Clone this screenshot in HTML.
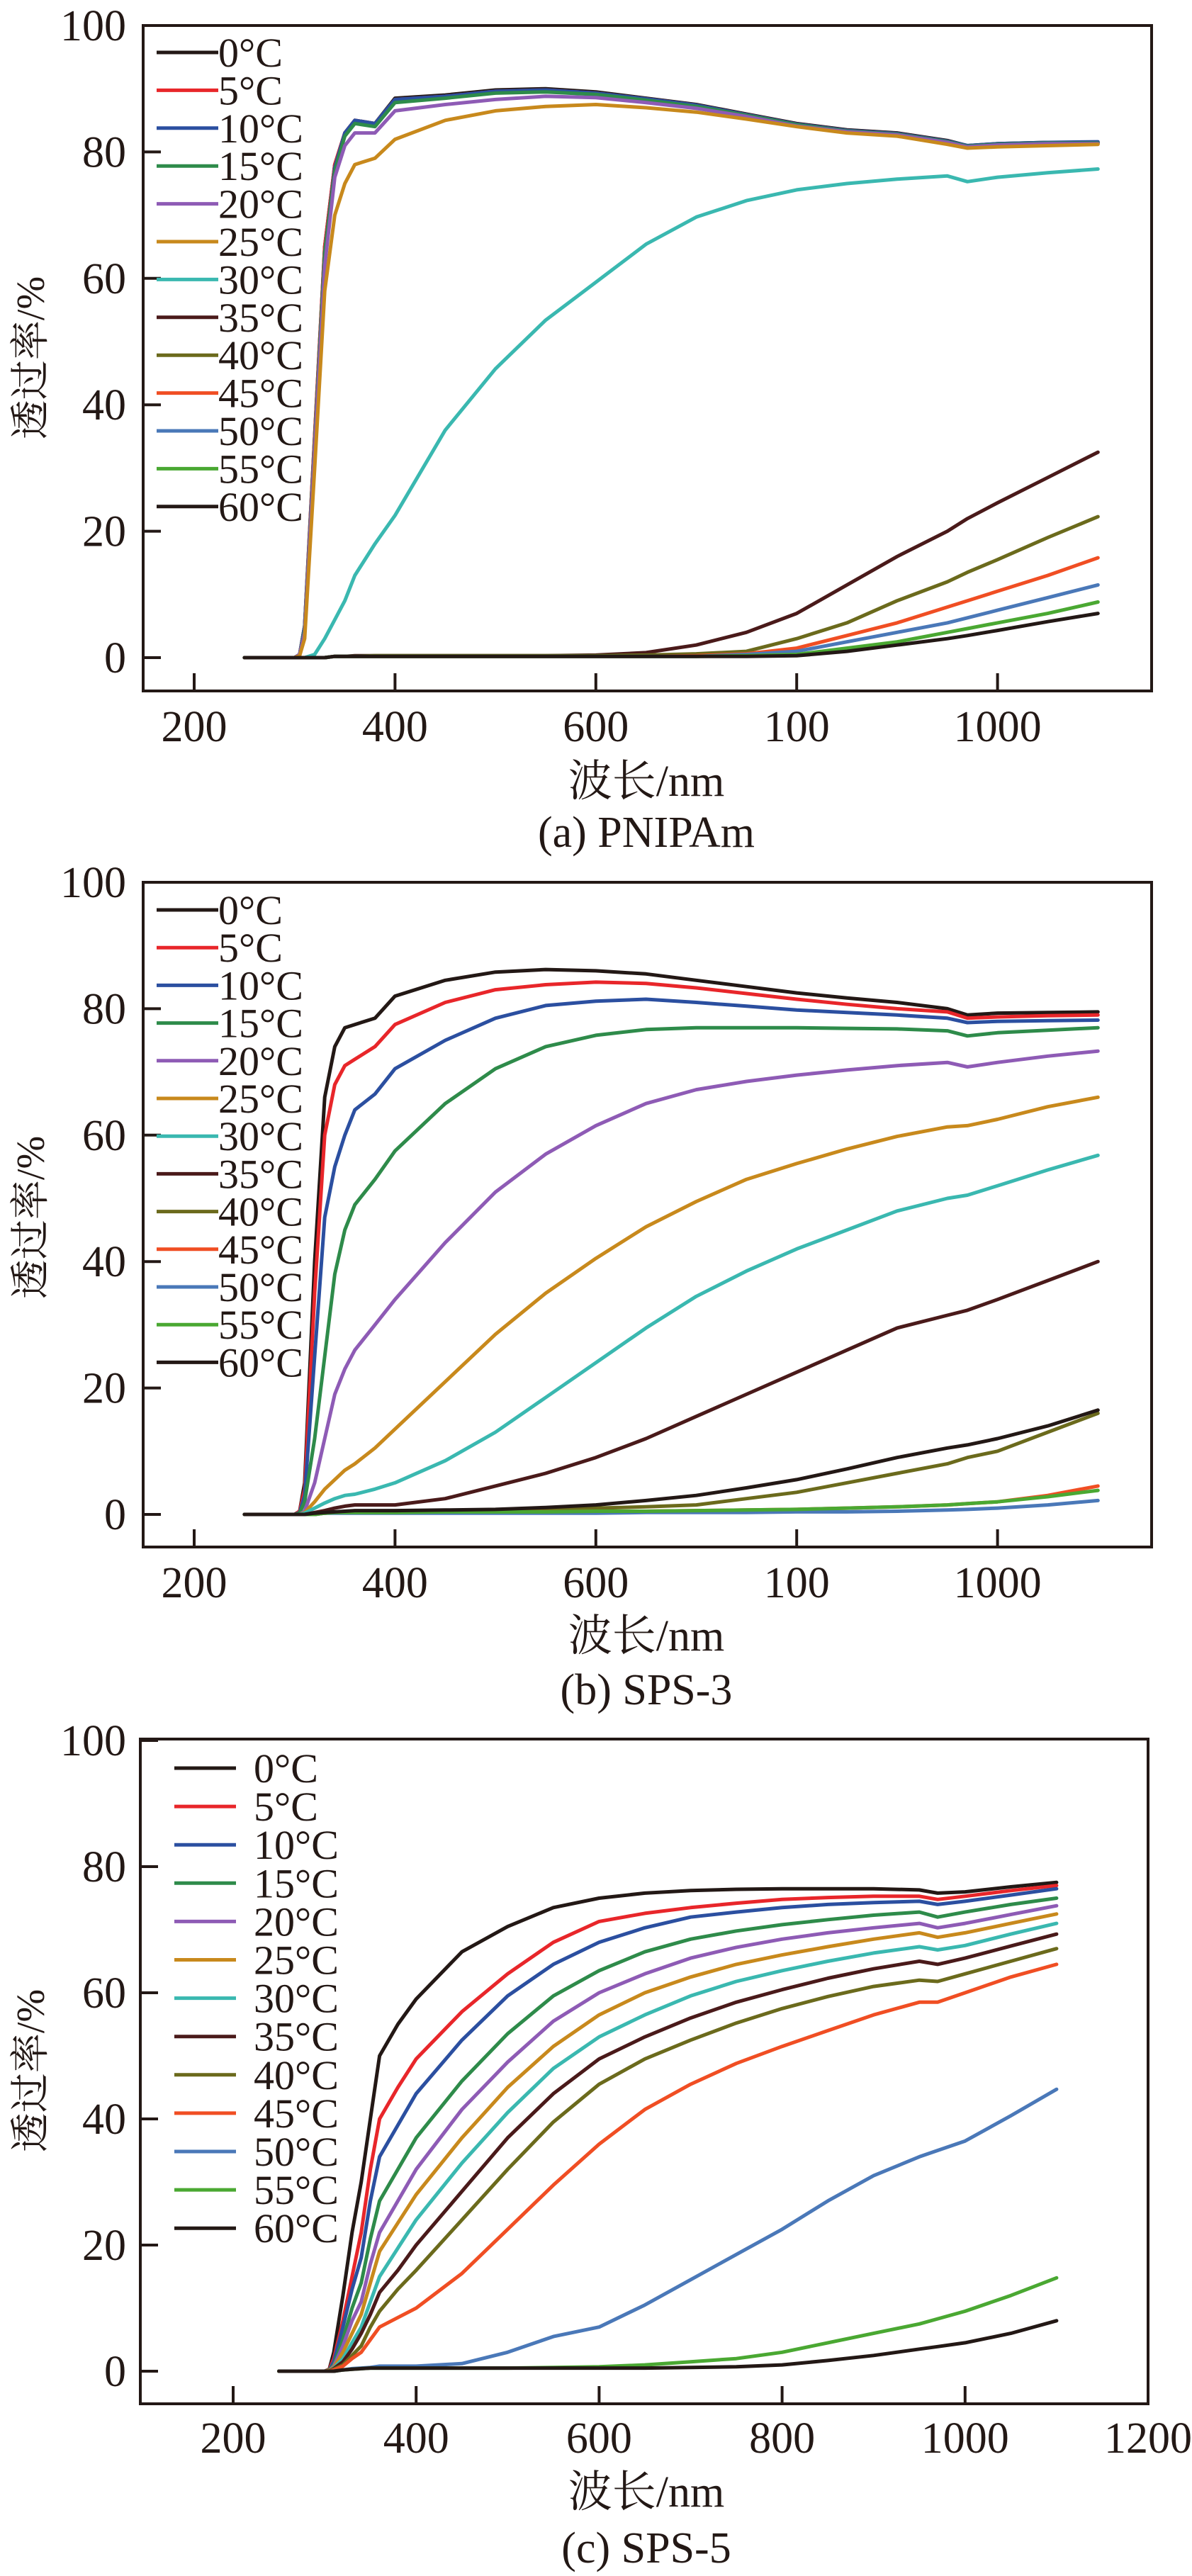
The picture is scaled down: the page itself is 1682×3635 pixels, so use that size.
<!DOCTYPE html>
<html><head><meta charset="utf-8"><style>
html,body{margin:0;padding:0;background:#fff;}
svg{display:block;}
text{font-family:"Liberation Serif","Noto Serif CJK SC",serif;fill:#231815;}
</style></head>
<body>
<svg id="fig" width="1682" height="3635" viewBox="0 0 1682 3635" xmlns="http://www.w3.org/2000/svg"></svg>
<script>
// ---------- data ----------
const wavelengths = [250,300,305,310,320,330,340,350,360,380,400,450,500,550,600,650,700,750,800,850,900,950,970,1000,1050,1100];
const seriesLabels = ["0°C","5°C","10°C","15°C","20°C","25°C","30°C","35°C","40°C","45°C","50°C","55°C","60°C"];
const yTicks = [0,20,40,60,80,100];
const xTicksAB = [200,400,600,800,1000];
const xTickLabelsAB = ["200","400","600","100","1000"];
const xTicksC = [200,400,600,800,1000,1200];
const xTickLabelsC = ["200","400","600","800","1000","1200"];

const a0 = [0,0,0.5,5,35,65,78,83,85,84.5,88.5,89,89.8,90,89.5,88.5,87.5,86,84.5,83.5,83,81.8,81,81.3,81.5,81.5];
const a5 = [0,0,0.5,5,35,65,78,83,85,84.5,88.3,88.8,89.6,89.8,89.3,88.4,87.4,85.9,84.4,83.4,82.9,81.7,80.9,81.2,81.4,81.4];
const a10 = [0,0,0.5,5,34,64,77.5,83,85,84.5,88.3,88.8,89.6,89.8,89.3,88.4,87.4,85.9,84.4,83.4,82.9,81.7,81,81.3,81.5,81.6];
const a15 = [0,0,0.5,4.5,34,64,77,82.5,84.5,84,87.8,88.5,89.3,89.5,89.1,88.2,87.2,85.8,84.3,83.3,82.8,81.6,80.9,81.2,81.4,81.4];
const a20 = [0,0,0.5,4,33,62,76,81,83,83,86.5,87.5,88.3,88.8,88.6,87.8,86.9,85.6,84.1,83.2,82.7,81.5,80.8,81.1,81.3,81.3];
const a25 = [0,0,0.3,3,30,58,70,75,78,79,82,85,86.5,87.2,87.5,87,86.3,85.2,84,83,82.5,81.2,80.6,80.8,81,81.2];
const a30 = [0,0,0,0,0.5,3,6,9,13,18,22.5,36,45.7,53.4,59.4,65.4,69.7,72.3,74,75,75.7,76.2,75.3,76,76.7,77.3];
const a35 = [0,0,0,0,0,0,0.2,0.2,0.3,0.3,0.3,0.3,0.3,0.3,0.4,0.8,2,4,7,11.5,16,20,22,24.5,28.5,32.5];
const a40 = [0,0,0,0,0,0,0.2,0.2,0.2,0.3,0.3,0.3,0.3,0.3,0.3,0.4,0.6,1,3,5.5,9,12,13.5,15.5,19,22.3];
const a45 = [0,0,0,0,0,0,0.2,0.2,0.2,0.2,0.2,0.2,0.2,0.2,0.2,0.2,0.3,0.6,1.5,3.5,5.5,8,9,10.5,13,15.8];
const a50 = [0,0,0,0,0,0,0.2,0.2,0.2,0.2,0.2,0.2,0.2,0.2,0.2,0.2,0.2,0.5,1,2.5,4,5.5,6.3,7.5,9.5,11.5];
const a55 = [0,0,0,0,0,0,0.2,0.2,0.2,0.2,0.2,0.2,0.2,0.2,0.2,0.2,0.2,0.3,0.5,1.5,2.5,4,4.6,5.5,7,8.8];
const a60 = [0,0,0,0,0,0,0.2,0.2,0.2,0.2,0.2,0.2,0.2,0.2,0.2,0.2,0.2,0.2,0.3,1,2,3,3.5,4.3,5.7,7];

const b0 = [0,0,0.5,5,40,66,74,77,77.5,78.5,82,84.5,85.8,86.2,86,85.5,84.5,83.5,82.5,81.7,81,80,79,79.3,79.4,79.5];
const b5 = [0,0,0.5,4,35,60,68,71,72,74,77.5,81,83,83.8,84.2,84,83.3,82.4,81.5,80.7,80,79.5,78.5,78.7,78.9,79];
const b10 = [0,0,0.3,3,25,47,55,60,64,66.5,70.5,75,78.5,80.5,81.2,81.5,81,80.4,79.8,79.4,79,78.5,77.8,78,78.1,78.2];
const b15 = [0,0,0.2,2,12,25,38,45,49,53,57.5,65,70.5,74,75.8,76.7,77,77,77,76.9,76.8,76.5,75.7,76.2,76.6,77];
const b20 = [0,0,0,0.5,5,12,19,23,26,30,34,43,51,57,61.5,65,67.2,68.5,69.5,70.3,71,71.5,70.8,71.5,72.5,73.3];
const b25 = [0,0,0,0.3,2,4,5.5,7,8,10.5,13.5,21,28.5,35,40.5,45.5,49.5,53,55.5,57.8,59.8,61.3,61.5,62.5,64.5,66];
const b30 = [0,0,0,0.2,1,1.8,2.5,3,3.2,4,5,8.5,13,18.5,24,29.5,34.5,38.5,42,45,48,50,50.5,52,54.5,56.8];
const b35 = [0,0,0,0,0.3,0.6,1,1.3,1.5,1.5,1.5,2.5,4.5,6.5,9,12,15.5,19,22.5,26,29.5,31.5,32.3,34,37,40];
const b40 = [0,0,0,0,0,0.2,0.3,0.4,0.4,0.4,0.4,0.5,0.6,0.8,1,1.2,1.5,2.5,3.5,5,6.5,8,9,10,13,16];
const b45 = [0,0,0,0,0,0.2,0.3,0.3,0.3,0.3,0.3,0.3,0.4,0.4,0.5,0.5,0.6,0.7,0.8,1,1.2,1.5,1.7,2,3,4.5];
const b50 = [0,0,0,0,0,0.2,0.2,0.2,0.2,0.2,0.2,0.2,0.2,0.2,0.2,0.3,0.3,0.3,0.4,0.4,0.5,0.7,0.8,1,1.5,2.2];
const b55 = [0,0,0,0,0,0.2,0.3,0.3,0.3,0.3,0.3,0.4,0.4,0.4,0.5,0.5,0.6,0.7,0.8,1,1.2,1.5,1.7,2,2.8,3.8];
const b60 = [0,0,0,0,0.2,0.3,0.4,0.5,0.6,0.6,0.6,0.7,0.8,1.1,1.5,2.2,3,4.2,5.5,7.2,9,10.5,11,12,14,16.5];

const c0 = [0,0,0.3,3,12,22,30,40,50,55,59,66.5,70.5,73.5,75,75.8,76.2,76.4,76.5,76.5,76.5,76.3,75.8,76,76.8,77.5];
const c5 = [0,0,0.3,2,8,15,22,32,40,45,49.5,57,63,68,71.3,72.6,73.5,74.2,74.8,75.1,75.3,75.3,74.8,75.3,76.2,77];
const c10 = [0,0,0.2,1.5,7,13,18,27,34,39,44,52.5,59.5,64.5,68,70.3,72,72.8,73.5,74,74.3,74.5,74,74.5,75.5,76.5];
const c15 = [0,0,0.2,1,5,10,14,21,27,32,37,46,53.5,59.5,63.5,66.5,68.5,69.8,70.8,71.6,72.3,72.8,72,72.8,74,75];
const c20 = [0,0,0.1,0.8,4,8,11,17,22,27,32,41.5,49,55.5,60,63,65.5,67.2,68.5,69.5,70.3,71,70.3,71,72.4,73.8];
const c25 = [0,0,0.1,0.6,3,6,9,14,19,23.5,28,37,45,51.5,56.5,60,62.5,64.5,66,67.3,68.5,69.5,68.8,69.5,71,72.5];
const c30 = [0,0,0,0.5,2,4.5,7,11,15,19.5,24,33,41,48,53,56.5,59.5,61.8,63.5,65,66.3,67.3,66.8,67.5,69.3,71];
const c35 = [0,0,0,0.4,1.5,3.5,6,9,12.5,16,20,28.5,37,44,49.5,53,56,58.5,60.5,62.3,63.8,65,64.5,65.5,67.4,69.3];
const c40 = [0,0,0,0.3,1,2.5,4,7,9.5,13,16,24,32,39.5,45.5,49.5,52.5,55.2,57.5,59.4,61,62,61.8,63,65,67];
const c45 = [0,0,0,0.2,0.8,2,3,5,7,8.5,10,15.5,22.5,29.5,36,41.5,45.5,48.8,51.5,54,56.5,58.5,58.5,60,62.5,64.5];
const c50 = [0,0,0,0,0.2,0.4,0.5,0.6,0.8,0.8,0.8,1.2,3,5.5,7,10.5,14.5,18.5,22.5,27,31,34,35,36.5,40.5,44.7];
const c55 = [0,0,0,0,0.2,0.3,0.4,0.5,0.5,0.5,0.5,0.5,0.5,0.6,0.7,1,1.5,2,3,4.5,6,7.5,8.3,9.5,12,14.8];
const c60 = [0,0,0,0,0.2,0.3,0.4,0.5,0.5,0.5,0.5,0.5,0.5,0.5,0.5,0.5,0.6,0.7,1,1.7,2.5,3.5,3.9,4.5,6,8];

const seriesColors = ["#231815","#e8262a","#2b4fa0","#2e8b4a","#8e5bb5","#c8891c","#3ab8b0","#4a1a1a","#6b6a1c","#f04e23","#4a78b8","#4aa832","#231815"];

// ---------- drawing ----------
const NS = "http://www.w3.org/2000/svg";
const svg = document.getElementById("fig");
function mk(tag, attrs, parent){
  const e = document.createElementNS(NS, tag);
  for (const k in attrs) e.setAttribute(k, attrs[k]);
  (parent||svg).appendChild(e);
  return e;
}

function drawChart(cfg){
  const g = mk("g", {});
  
  
  const xs = v => cfg.x0px + (v - cfg.x0nm) * cfg.pxPerNm;
  const ys = v => cfg.y0px - v * cfg.pxPerUnit;

  // series
  cfg.series.forEach((vals, i) => {
    const d = vals.map((v, j) => (j ? "L" : "M") + xs(wavelengths[j]).toFixed(1) + "," + ys(v).toFixed(1)).join(" ");
    const p = mk("path", {d: d, fill: "none", stroke: seriesColors[i], "stroke-width": 5, "stroke-linejoin": "round", "stroke-linecap": "round"}, g);
    
    
  });

  // frame
  const fr = mk("rect", {x: cfg.left, y: cfg.top, width: cfg.right - cfg.left, height: cfg.bottom - cfg.top, fill: "none", stroke: "#231815", "stroke-width": 4}, g);
  
  

  // y ticks
  yTicks.forEach(t => {
    const y = ys(t);
    const tk = mk("line", {x1: cfg.left, x2: cfg.left + 25, y1: y, y2: y, stroke: "#231815", "stroke-width": 4}, g);
    
    
    const tl = mk("text", {x: 178, y: y + 21, "text-anchor": "end", "font-size": 62}, g);
    tl.textContent = t;
    
    
  });
  // x ticks
  cfg.xTicks.forEach((t, i) => {
    const x = xs(t);
    if (x < cfg.right - 3) {
      const tk = mk("line", {x1: x, x2: x, y1: cfg.bottom, y2: cfg.bottom - 25, stroke: "#231815", "stroke-width": 4}, g);
      
      
    }
    const tl = mk("text", {x: x, y: cfg.tickLabelY + 21, "text-anchor": "middle", "font-size": 62}, g);
    tl.textContent = cfg.xTickLabels[i];
    
    
  });

  // axis titles
  const yt = mk("text", {x: 0, y: 0, "text-anchor": "middle", "font-size": 56, transform: "translate(" + 62 + "," + cfg.yTitleY + ") rotate(-90)"}, g);
  yt.textContent = "透过率/%";
  
  
  const xt = mk("text", {x: 912, y: cfg.xTitleY + 21, "text-anchor": "middle", "font-size": 62}, g);
  xt.textContent = "波长/nm";
  
  
  const cap = mk("text", {x: 912, y: cfg.captionY + 21, "text-anchor": "middle", "font-size": 62}, g);
  cap.textContent = cfg.caption;
  
  

  // legend
  seriesLabels.forEach((lab, i) => {
    const y = cfg.legY + i * cfg.legStep;
    const ln = mk("line", {x1: cfg.legX1, x2: cfg.legX2, y1: y, y2: y, stroke: seriesColors[i], "stroke-width": 5}, g);
    
    
    const tx = mk("text", {x: cfg.legTextX, y: y + 20, "font-size": 58}, g);
    tx.textContent = lab;
    
    
  });
}

drawChart({name: "chart-a-pnipam", series: [a0,a5,a10,a15,a20,a25,a30,a35,a40,a45,a50,a55,a60],
  left: 202, right: 1625, top: 36, bottom: 975, x0nm: 200, x0px: 274, pxPerNm: 1.417, y0px: 928, pxPerUnit: 8.92,
  xTicks: xTicksAB, xTickLabels: xTickLabelsAB, tickLabelY: 1025, xTitleY: 1102, captionY: 1174, yTitleY: 505,
  caption: "(a) PNIPAm", legX1: 221, legX2: 308, legTextX: 308, legY: 74, legStep: 53.4});

drawChart({name: "chart-b-sps3", series: [b0,b5,b10,b15,b20,b25,b30,b35,b40,b45,b50,b55,b60],
  left: 202, right: 1625, top: 1245, bottom: 2183, x0nm: 200, x0px: 274, pxPerNm: 1.417, y0px: 2137, pxPerUnit: 8.92,
  xTicks: xTicksAB, xTickLabels: xTickLabelsAB, tickLabelY: 2233, xTitleY: 2308, captionY: 2384, yTitleY: 1718,
  caption: "(b) SPS-3", legX1: 221, legX2: 308, legTextX: 308, legY: 1284, legStep: 53.2});

drawChart({name: "chart-c-sps5", series: [c0,c5,c10,c15,c20,c25,c30,c35,c40,c45,c50,c55,c60],
  left: 198, right: 1620, top: 2454, bottom: 3392, x0nm: 200, x0px: 329, pxPerNm: 1.291, y0px: 3346, pxPerUnit: 8.9,
  xTicks: xTicksC, xTickLabels: xTickLabelsC, tickLabelY: 3440, xTitleY: 3516, captionY: 3595, yTitleY: 2922,
  caption: "(c) SPS-5", legX1: 246, legX2: 333, legTextX: 358, legY: 2495, legStep: 54.1});
</script>
</body></html>
